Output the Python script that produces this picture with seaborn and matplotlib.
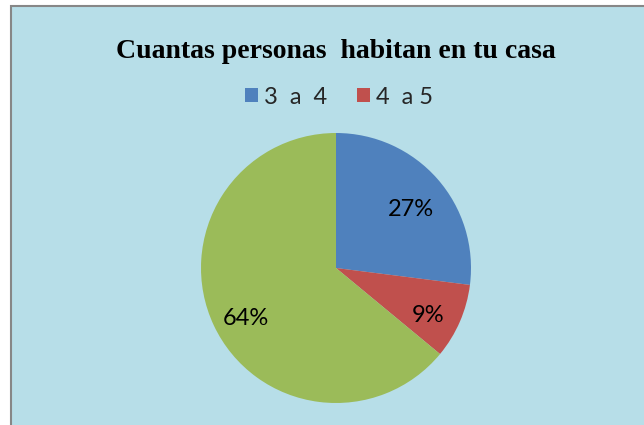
import matplotlib
matplotlib.use('Agg')
import matplotlib.pyplot as plt
import matplotlib.transforms as mtransforms
import seaborn as sns
from matplotlib.patches import Rectangle

# Data
categories = ["3  a  4", "4  a 5", "otros"]
shares = [27, 9, 64]
slice_colors = ["#4F81BD", "#C0504D", "#9BBB59"]
legend_labels = ["3  a  4", "4  a 5"]
title_text = "Cuantas personas  habitan en tu casa"

sns.set_theme(style="white")
plt.rcParams['font.family'] = ['Lato', 'DejaVu Sans']

W, H = 644, 425
fig = plt.figure(figsize=(W / 100, H / 100), dpi=100, facecolor='white')

# chart area box (runs off the right and bottom edges)
fig.patches.append(Rectangle((10.5 / W, -0.05), 1.1, (H - 5.5) / H + 0.05,
                             transform=fig.transFigure, facecolor='#B7DEE8',
                             edgecolor='#878787', linewidth=1.5, zorder=-5))

# pie axes: center (336, 268) px, radius 135 px
cx, cy, r = 336, 268, 135
ax = fig.add_axes([(cx - r) / W, (H - cy - r) / H, 2 * r / W, 2 * r / H])
ax.set_facecolor('none')
ax.set_zorder(2)
wedges, texts, autotexts = ax.pie(shares, colors=slice_colors, startangle=90,
                                  counterclock=False, autopct='%1.0f%%',
                                  pctdistance=0.74, radius=1,
                                  wedgeprops=dict(linewidth=0),
                                  textprops=dict(fontsize=17, color='black'))
# labels sit a little lower than the radial midpoint, as in the original
shift = mtransforms.ScaledTranslation(0, -8 / 100, fig.dpi_scale_trans)
for t in autotexts:
    t.set_transform(t.get_transform() + shift)
ax.set_xlim(-1, 1)
ax.set_ylim(-1, 1)
ax.set_aspect('equal')
ax.axis('off')

fig.text(cx / W, 1 - 52 / H, title_text, ha='center', va='center',
         fontsize=20, fontweight='bold', family=['Liberation Serif'], color='black')

fig.legend(wedges[:2], legend_labels, loc='center', bbox_to_anchor=(339 / W, 1 - 97 / H),
           ncol=2, frameon=False, fontsize=17, handlelength=0.55, handleheight=0.55,
           handletextpad=0.25, columnspacing=1.3)

fig.savefig('out.png', dpi=100, facecolor='white')
